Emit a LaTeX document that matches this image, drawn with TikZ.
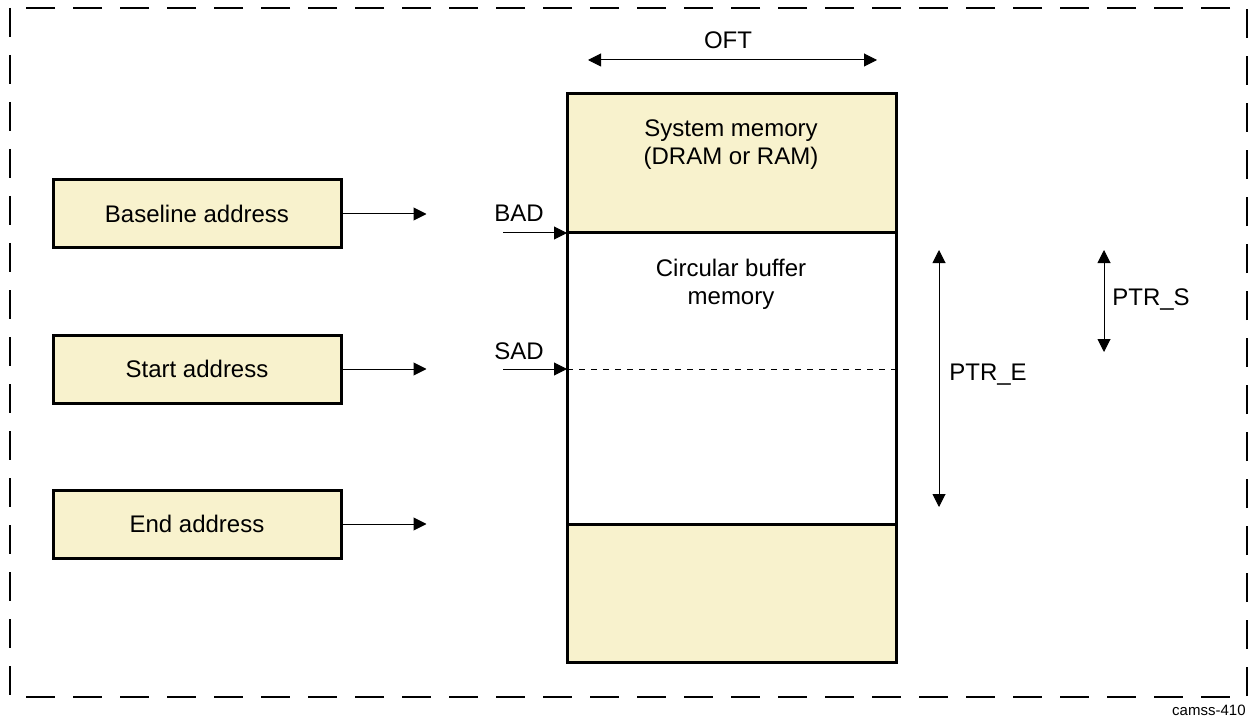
\documentclass[tikz,border=0pt]{standalone}
\usepackage{fontspec}
\setmainfont{Liberation Sans}
\usetikzlibrary{arrows.meta,positioning}
\definecolor{memfill}{HTML}{F8F2CD}

\tikzset{
  addrbox/.style={draw, line width=1.5pt, fill=memfill, minimum width=144pt,
    minimum height=34pt, inner sep=0pt, font=\fontsize{12}{14}\selectfont},
  ptr/.style={-{Triangle[length=6.5pt,width=6.5pt]}, line width=0.5pt},
  dimarrow/.style={{Triangle[length=6.5pt,width=6.5pt]}-{Triangle[length=6.5pt,width=6.5pt]}, line width=0.5pt},
  lbl/.style={font=\fontsize{12}{14}\selectfont, inner sep=0pt, align=center},
  memline/.style={line width=1.5pt}
}

\begin{document}
\begin{tikzpicture}[x=0.5pt,y=-0.5pt]
  \useasboundingbox (0,0) rectangle (1249,717);

  % Rahmen
  \draw[line width=1.25pt, dash pattern=on 14.5pt off 9pt] (10,8) rectangle (1247,697);

  % Adressregister
  \node[addrbox] (base)  at (197,214) {Baseline address};
  \node[addrbox] (start) at (197,369) {Start address};
  \node[addrbox] (end)   at (197,524) {End address};

  \draw[ptr] (base.east)  -- +(84,0);
  \draw[ptr] (start.east) -- +(84,0);
  \draw[ptr] (end.east)   -- +(84,0);

  % Speicher
  \fill[memfill] (567,94) rectangle (896,233);
  \fill[memfill] (567,524) rectangle (896,662);
  \draw[memline] (567,94) rectangle (896,662);
  \draw[memline] (567,233) -- (896,233);
  \draw[memline] (567,524) -- (896,524);
  \draw[dashed, line width=0.5pt] (567,369) -- (896,369);

  \node[lbl] (sysmem) at (731,145) {System memory\\(DRAM or RAM)};
  \node[lbl] (circ)   at (731,284) {Circular buffer\\memory};

  % Zeiger BAD / SAD
  \coordinate (bad) at (567,233);
  \coordinate (sad) at (567,369);
  \node[lbl] (badlbl) at (519,213) {BAD};
  \node[lbl] (sadlbl) at (519,351) {SAD};
  \draw[ptr] (503,233) -- (bad);
  \draw[ptr] (503,369) -- (sad);

  % OFT
  \coordinate (oftl) at (588,60);
  \coordinate (oftr) at (877,60);
  \draw[dimarrow] (oftl) -- (oftr);
  \node[lbl] (oft) at (728,40) {OFT};

  % PTR_E und PTR_S
  \coordinate (pet) at (939,250);
  \coordinate (peb) at (939,507);
  \draw[dimarrow] (pet) -- (peb);
  \node[lbl] (ptre) at (988,375) {PTR\_E};

  \coordinate (pst) at (1104,250);
  \coordinate (psb) at (1104,352);
  \draw[dimarrow] (pst) -- (psb);
  \node[lbl] (ptrs) at (1151,300) {PTR\_S};

  \node[lbl, anchor=east, font=\fontsize{7.5}{9}\selectfont] (fig) at (1246,710) {camss-410};
\end{tikzpicture}
\end{document}
